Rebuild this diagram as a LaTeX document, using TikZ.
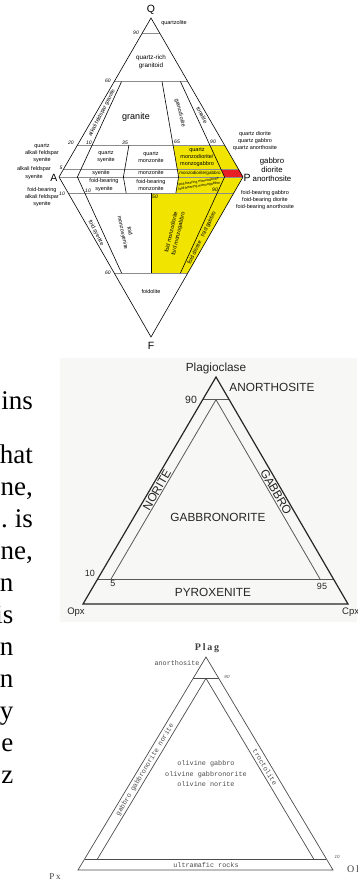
\documentclass[tikz,border=0pt]{standalone}
\usepackage{fontspec}
\setmainfont{Liberation Serif}
\newfontfamily\qapffont{Liberation Sans}
\newfontfamily\olfont{Liberation Mono}
\newfontfamily\spacedfont[LetterSpace=18]{Liberation Serif}
\usepackage{tikz}
\usetikzlibrary{calc}

\definecolor{qyellow}{RGB}{240,228,0}
\definecolor{qred}{RGB}{232,30,37}
\definecolor{platebg}{RGB}{247,247,245}

\begin{document}
\begin{tikzpicture}[x=1pt, y=-1pt,
    lbl/.style={font=\qapffont\fontsize{5.5}{7.2}\selectfont, align=center, inner sep=0pt},
    tiny/.style={font=\qapffont\fontsize{4}{4.6}\selectfont, align=center, inner sep=0pt},
    num/.style={font=\qapffont\itshape\fontsize{5}{5}\selectfont, inner sep=0pt},
    corner/.style={font=\qapffont\fontsize{10.5}{10.5}\selectfont, inner sep=0pt},
    big/.style={font=\qapffont\fontsize{7.8}{9}\selectfont, align=center, inner sep=0pt},
    field/.style={line width=0.6pt},
    split/.style={black!45, line width=1pt},
    plate/.style={font=\qapffont\fontsize{11.8}{12}\selectfont, inner sep=0pt, text=black!85},
    platenum/.style={font=\qapffont\fontsize{9}{9}\selectfont, inner sep=0pt, text=black!85},
    outer/.style={black!85, line width=1.2pt},
    inner/.style={black!65, line width=0.8pt},
    ol/.style={font=\olfont\fontsize{6.8}{10.5}\selectfont, align=center, inner sep=0pt, text=black!70},
    olnum/.style={font=\qapffont\itshape\fontsize{4.5}{4.5}\selectfont, inner sep=0pt, text=black!70},
    olcorner/.style={font=\spacedfont\bfseries\fontsize{10}{10}\selectfont, inner sep=0pt, text=black!75},
    thin/.style={black!70, line width=0.7pt},
    txt/.style={font=\fontsize{27}{27}\selectfont, anchor=base east, inner sep=0pt},
]
    \useasboundingbox (0,0) rectangle (357,884);
    \fill[white] (0,0) rectangle (357,884);

    % QAPF corners
    \coordinate (Q) at (151,18);
    \coordinate (A) at (59,177);
    \coordinate (P) at (243,177);
    \coordinate (F) at (151,337);
    \foreach \r/\n in {0.1/b10, 0.35/b35, 0.5/b50, 0.65/b65, 0.9/b90}
        \coordinate (\n) at ($(A)!\r!(P)$);

    % Coloured fields
    \fill[qyellow] ($(Q)!0.8!(b65)$) -- ($(Q)!0.8!(P)$) -- (P) -- ($(F)!0.4!(P)$)
        -- ($(F)!0.4!(b50)$) -- ($(F)!0.9!(b50)$) -- ($(F)!0.9!(b65)$) -- (b65) -- cycle;
    \fill[qred] ($(Q)!0.95!(b90)$) -- ($(Q)!0.95!(P)$) -- (P) -- (b90) -- cycle;

    % Horizontal limits
    \draw[split] ($(Q)!0.1!(A)$) -- ($(Q)!0.1!(P)$);
    \draw[split] ($(Q)!0.4!(A)$) -- ($(Q)!0.4!(P)$);
    \draw[split] ($(Q)!0.8!(A)$) -- ($(Q)!0.8!(P)$);
    \draw[split] ($(Q)!0.95!(A)$) -- ($(Q)!0.95!(P)$);
    \draw[split] (A) -- (P);
    \draw[split] ($(F)!0.9!(A)$) -- ($(F)!0.9!(P)$);
    \draw[split] ($(F)!0.4!(A)$) -- ($(F)!0.4!(P)$);

    % Field boundaries
    \draw[field] ($(Q)!0.4!(b10)$) -- (b10) -- ($(F)!0.4!(b10)$);
    \draw[field] ($(Q)!0.8!(b35)$) -- (b35) -- ($(F)!0.9!(b35)$);
    \draw[field] ($(Q)!0.4!(b65)$) -- (b65) -- ($(F)!0.9!(b65)$);
    \draw[field] ($(Q)!0.4!(b90)$) -- (b90) -- ($(F)!0.4!(b90)$);
    \draw[field] ($(F)!0.9!(b50)$) -- ($(F)!0.4!(b50)$);
    \draw[field] (Q) -- (P) -- (F) -- (A) -- cycle;

    % QAPF labels
    \node[corner] (qlab) at (151,10) {Q};
    \node[corner] (alab) at (54,178) {A};
    \node[corner] (plab) at (247,178) {P};
    \node[corner] (flab) at (151,346) {F};
    \node[lbl] (quartzolite) at (174,23) {quartzolite};
    \node[lbl, font=\qapffont\fontsize{6.3}{7.5}\selectfont] (qrich) at (151,62) {quartz-rich\\granitoid};
    \node[lbl, font=\qapffont\fontsize{9}{9}\selectfont] (granite) at (136,117) {granite};
    \node[lbl, rotate=63] (afgranite) at (102,113) {alkali feldspar granite};
    \node[lbl, rotate=-76] (granodiorite) at (180,113) {granodiorite};
    \node[lbl, rotate=-62] (tonalite) at (202,115) {tonalite};
    \node[lbl] (qsyenite) at (106,157) {quartz\\syenite};
    \node[lbl] (qmonzonite) at (151,157) {quartz\\monzonite};
    \node[lbl] (qmonzodiorite) at (197,157) {quartz\\monzodiorite/\\monzogabbro};
    \node[lbl] (syenite) at (101,173) {syenite};
    \node[lbl] (monzonite) at (151,173) {monzonite};
    \node[tiny, font=\qapffont\fontsize{4.5}{5}\selectfont] (monzodiorite) at (200,173) {monzodiorite/gabbro};
    \node[lbl] (fbsyenite) at (104,185) {foid-bearing\\syenite};
    \node[lbl] (fbmonzonite) at (151,185) {foid-bearing\\monzonite};
    \node[tiny, font=\qapffont\fontsize{3.6}{4.2}\selectfont, rotate=9] (fbmonzodiorite) at (199,184)
        {foid-bearing monzodiorite\\foid-bearing monzogabbro};
    \node[lbl, rotate=-63] (fsyenite) at (96,233) {foid syenite};
    \node[lbl, rotate=-78] (fmonzosyenite) at (126,232) {foid\\monzosyenite};
    \node[lbl, rotate=77] (fmonzodiorite) at (175,233) {foid monzodiorite\\foid monzogabbro};
    \node[lbl, rotate=64] (fdiorite) at (202,238) {foid diorite\quad foid gabbro};
    \node[lbl] (foidolite) at (151,292) {foidolite};
    \node[lbl, anchor=east] (qafs) at (59,153) {quartz\\alkali feldspar\\syenite};
    \node[lbl] (afs) at (34,173) {alkali feldspar\\syenite};
    \node[lbl] (fbafs) at (42,197) {foid-bearing\\alkali feldspar\\syenite};
    \node[lbl] (qdiorite) at (255,141) {quartz diorite\\quartz gabbro\\quartz anorthosite};
    \node[big] (gabbro) at (272,170) {gabbro\\diorite\\anorthosite};
    \node[lbl] (fbgabbro) at (265,200) {foid-bearing gabbro\\foid-bearing diorite\\foid-bearing anorthosite};

    % QAPF numbers
    \node[num] (n90) at (136,33) {90};
    \node[num] (n60) at (108,81) {60};
    \node[num] (n20) at (71,143) {20};
    \node[num] (n10a) at (89,143) {10};
    \node[num] (n35) at (125,143) {35};
    \node[num] (n65) at (177,142) {65};
    \node[num] (n90b) at (213,142) {90};
    \node[num] (n5) at (61,168) {5};
    \node[num] (n10b) at (62,194) {10};
    \node[num] (n10c) at (88,191) {10};
    \node[num] (n50) at (155,197) {50};
    \node[num] (n90c) at (215,190) {90};
    \node[num] (n60b) at (108,273) {60};

    % Gabbro triangle
    \fill[platebg] (60,358) rectangle (357,622);
    \coordinate (pl) at (216,377);
    \coordinate (opx) at (83,604);
    \coordinate (cpx) at (348,604);
    \coordinate (iap) at (216,399.7);
    \coordinate (ilo) at (111,579);
    \coordinate (iro) at (320,579);
    \draw[inner] ($(pl)!0.1!(opx)$) -- ($(pl)!0.1!(cpx)$);
    \draw[inner] ($(pl)!0.89!(opx)$) -- ($(pl)!0.89!(cpx)$);
    \draw[inner] (ilo) -- (iap) -- (iro);
    \draw[outer] (pl) -- (cpx) -- (opx) -- cycle;

    \node[plate] (plagioclase) at (216,368) {Plagioclase};
    \node[plate] (anorthosite) at (272,387) {ANORTHOSITE};
    \node[plate, rotate=60] (norite) at (157,490) {NORITE};
    \node[plate, rotate=-60] (gabbroband) at (276,492) {GABBRO};
    \node[plate] (gabbronorite) at (218,517) {GABBRONORITE};
    \node[plate] (pyroxenite) at (213,592) {PYROXENITE};
    \node[platenum, font=\qapffont\fontsize{10.5}{10.5}\selectfont] (p90) at (191,400) {90};
    \node[platenum] (p10) at (90,573) {10};
    \node[platenum] (p5) at (113,583) {5};
    \node[platenum] (p95) at (322,586) {95};
    \node[platenum, font=\qapffont\fontsize{9.5}{9.5}\selectfont] (opxlab) at (76,612) {Opx};
    \node[platenum, font=\qapffont\fontsize{9.5}{9.5}\selectfont, anchor=west] (cpxlab) at (342,612) {Cpx};

    % Olivine triangle
    \coordinate (pg) at (206,657);
    \coordinate (px) at (78,870);
    \coordinate (olv) at (333,870);
    \coordinate (oap) at (206,678.3);
    \coordinate (olo) at (97.4,859);
    \coordinate (oro) at (313.7,859);
    \draw[thin] ($(pg)!0.1!(px)$) -- ($(pg)!0.1!(olv)$);
    \draw[thin] ($(pg)!0.948!(px)$) -- ($(pg)!0.948!(olv)$);
    \draw[thin] (olo) -- (oap) -- (oro);
    \draw[thin] (pg) -- (olv) -- (px) -- cycle;

    \node[olcorner] (plag) at (207,648) {Plag};
    \node[olcorner, font=\spacedfont\fontsize{9}{9}\selectfont] (pxlab) at (55,877) {Px};
    \node[olcorner, font=\spacedfont\fontsize{10}{10}\selectfont, anchor=west] (ollab) at (347,869) {Ol};
    \node[ol] (oanorth) at (177,663) {anorthosite};
    \node[ol, rotate=59] (ogabbro) at (145,770) {gabbro gabbronorite norite};
    \node[ol, rotate=-59] (troctolite) at (265,767) {troctolite};
    \node[ol] (olivine) at (206,774) {olivine gabbro\\olivine gabbronorite\\olivine norite};
    \node[ol] (ultramafic) at (206,865) {ultramafic rocks};
    \node[olnum] (o90) at (227,677) {90};
    \node[olnum] (o10) at (337,857) {10};

    % Page text
    \node[txt] (t1) at (33,409) {ins};
    \node[txt] (t2) at (33,463) {hat};
    \node[txt] (t3) at (33,495) {ne,};
    \node[txt] (t4) at (33,527) {.\kern7pt is};
    \node[txt] (t5) at (33,559) {ne,};
    \node[txt] (t6) at (13.5,591) {n};
    \node[txt] (t7) at (13.5,623) {is};
    \node[txt] (t8) at (13.5,655) {n};
    \node[txt] (t9) at (13.5,687) {n};
    \node[txt] (t10) at (13.5,719) {y};
    \node[txt] (t11) at (13.5,751) {e};
    \node[txt] (t12) at (13.5,783) {z};
\end{tikzpicture}
\end{document}
